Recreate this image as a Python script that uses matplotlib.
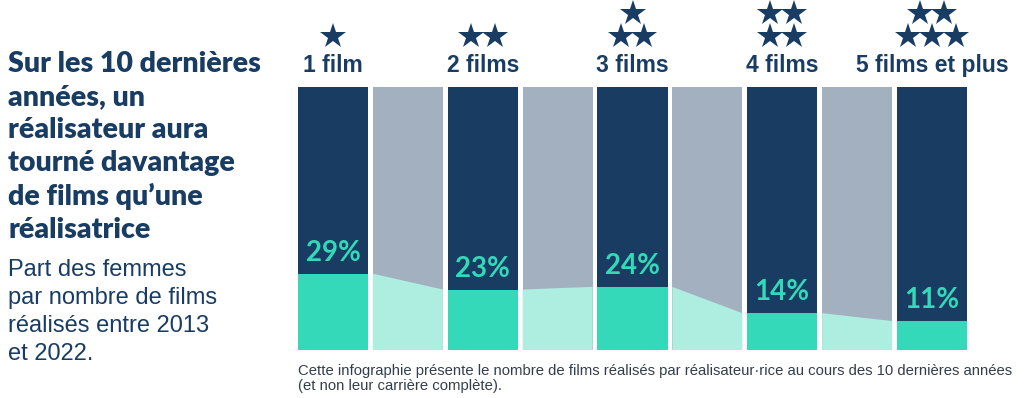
import matplotlib.pyplot as plt
import matplotlib.transforms as mtransforms

# données
categories = ['1 film', '2 films', '3 films', '4 films', '5 films et plus']
n_stars = [1, 2, 3, 4, 5]
part_femmes = [29, 23, 24, 14, 11]

titre = "Sur les 10 dernières\nannées, un\nréalisateur aura\ntourné davantage\nde films qu’une\nréalisatrice"
sous_titre = "Part des femmes\npar nombre de films\nréalisés entre 2013\net 2022."
note = ("Cette infographie présente le nombre de films réalisés par réalisateur·rice au cours des 10 dernières années\n"
        "(et non leur carrière complète).")

navy = '#193c63'
gris = '#a3b0c0'
teal = '#33d9b8'
teal_clair = '#aeeee1'

fig = plt.figure(figsize=(10.24, 3.98), dpi=100)
ax = fig.add_axes([298 / 1024, 48 / 398, 669 / 1024, 263 / 398])

w = 0.935
ax.set_xlim(-w / 2, 2 * (len(categories) - 1) + w / 2)
ax.set_ylim(0, 100)
ax.axis('off')

# barres principales
for i, v in enumerate(part_femmes):
    x = 2 * i
    ax.bar(x, 100, width=w, color=navy)
    ax.bar(x, v, width=w, color=teal)
    ax.text(x, v + 3, f'{v}%', ha='center', va='bottom', fontsize=20,
            fontweight='bold', color=teal, family='Lato')

# barres de liaison
for i in range(len(part_femmes) - 1):
    x = 2 * i + 1
    a, b = part_femmes[i], part_femmes[i + 1]
    ax.bar(x, 100, width=w, color=gris)
    ax.fill([x - w / 2, x + w / 2, x + w / 2, x - w / 2], [0, 0, b, a],
            color=teal_clair, lw=0)

# titres des catégories et étoiles
trans = mtransforms.blended_transform_factory(ax.transData, fig.transFigure)
for i, (cat, n) in enumerate(zip(categories, n_stars)):
    x = 2 * i
    ax.text(x, 1 - 72 / 398, cat, transform=trans, ha='center', va='baseline',
            fontsize=16.5, fontweight='bold', color=navy, family='Liberation Sans')
    rows = {1: [1], 2: [2], 3: [1, 2], 4: [2, 2], 5: [2, 3]}[n]
    ys = [36] if len(rows) == 1 else [13, 36]
    for k, y in zip(rows, ys):
        xs = [x + (j - (k - 1) / 2) * 0.32 for j in range(k)]
        ax.plot(xs, [1 - y / 398] * k, '*', ms=19, color=navy, transform=trans,
                clip_on=False, markeredgewidth=0)

# texte de gauche
fig.text(8 / 1024, 1 - 51 / 398, titre, ha='left', va='top', fontsize=20.5,
         fontweight='heavy', color=navy, family='Lato', linespacing=1.33)
fig.text(8 / 1024, 1 - 360 / 398, sous_titre, ha='left', va='baseline', fontsize=17,
         color=navy, family='Liberation Sans', linespacing=1.35)
fig.text(298 / 1024, 1 - 390 / 398, note, ha='left', va='baseline', fontsize=10.7,
         color='#333e4c', family='Liberation Sans', linespacing=1.1)

fig.savefig('out.png', dpi=100)
